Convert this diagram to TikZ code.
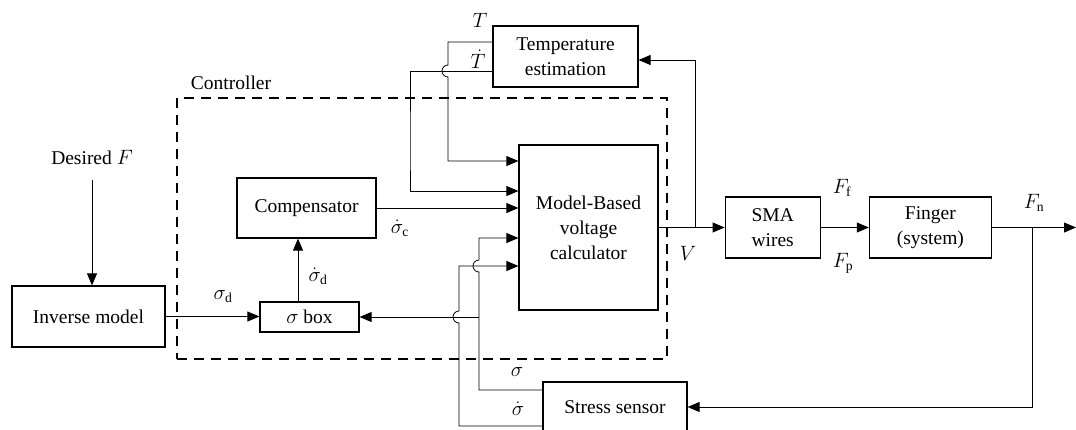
\documentclass[tikz,border=0pt]{standalone}
\usepackage{fontspec}
\setmainfont{Liberation Serif}
\usetikzlibrary{positioning,arrows.meta}

\begin{document}
\begin{tikzpicture}[x=1pt, y=-1pt, node distance=48pt,
    every node/.style={font=\fontsize{19.5}{25}\selectfont},
    block/.style={draw, line width=1.2pt, align=center, inner sep=0pt},
    sig/.style={inner sep=1pt},
    wire/.style={line width=0.8pt},
    arr/.style={wire, -{Triangle[length=12pt, width=10pt]}}]
    \useasboundingbox (0,0) rectangle (1076,429);

    % controller frame
    \node (ctrl) [draw, line width=2pt, dash pattern=on 10pt off 7pt, minimum width=490pt, minimum height=261pt] at (422,228.5) {};
    \node (ctrllbl) at (231,83) {Controller};

    % blocks
    \node (inv) [block, minimum width=153pt, minimum height=61pt] at (88.5,316.5) {Inverse model};
    \node (desired) at (92,158) {Desired $F$};
    \node (comp) [block, minimum width=139pt, minimum height=60pt] at (306.5,208) {Compensator};
    \node (sbox) [block, minimum width=99pt, minimum height=30pt] at (309.5,317) {$\sigma$ box};
    \node (model) [block, minimum width=139pt, minimum height=165pt] at (588.5,227.5) {Model-Based\\voltage\\calculator};
    \node (temp) [block, minimum width=145pt, minimum height=61pt] at (565.5,56.5) {Temperature\\estimation};
    \node (sma) [block, minimum width=95pt, minimum height=61pt, right=66pt of model] {SMA\\wires};
    \node (finger) [block, minimum width=122pt, minimum height=61pt, right=of sma] {Finger\\(system)};
    \node (sensor) [block, minimum width=144pt, minimum height=50pt] at (615,407) {Stress sensor};

    \coordinate (vj) at (695,227.5);
    \coordinate (fn) at (1032,227.5);
    \coordinate (out) at (1076,227.5);
    \coordinate (sj) at (479,317);

    % forward path
    \draw[arr] ([yshift=-11pt]desired.south) -- (desired.south |- inv.north);
    \draw[arr] (inv.east) -- (inv.east -| sbox.west);
    \draw[arr] ([xshift=-11.5pt]sbox.north) -- ([xshift=-11.5pt]sbox.north |- comp.south);
    \draw[arr] (comp.east) -- (comp.east -| model.west);
    \draw[arr] (model) -- (sma);
    \draw[arr] (sma) -- (finger);
    \draw[arr] (finger) -- (out);

    % feedback
    \draw[arr] (vj) |- ([yshift=-3.5pt]temp.east);
    \draw[arr] (fn) |- (sensor.east);
    \draw[arr] ([yshift=14.5pt]temp.west) -| (448,65) arc[start angle=90, end angle=270, radius=6pt] |- ([yshift=66.5pt]model.west);
    \draw[arr] ([yshift=-14.5pt]temp.west) -| (410,150) |- ([yshift=36.5pt]model.west);
    \draw[arr] ([yshift=17pt]sensor.west) -| (479,272) arc[start angle=270, end angle=90, radius=6pt] |- ([yshift=-10.5pt]model.west);
    \draw[arr] ([yshift=-19pt]sensor.west) -| (459,323) arc[start angle=270, end angle=90, radius=6pt] |- ([yshift=-38.5pt]model.west);
    \draw[arr] (sj) -- (sbox.east);

    % signal labels
    \node (lT) [sig] at (480,20) {$T$};
    \node (lTd) [sig] at (478,59) {$\dot T$};
    \node (lsd) [sig] at (223,297) {$\sigma_{\mathrm{d}}$};
    \node (lsdd) [sig] at (318,276) {$\dot\sigma_{\mathrm{d}}$};
    \node (lsc) [sig] at (400,228) {$\dot\sigma_{\mathrm{c}}$};
    \node (lV) [sig] at (688,253) {$V$};
    \node (lFf) [sig] at (842,188) {$F_{\mathrm{f}}$};
    \node (lFp) [sig] at (843,263) {$F_{\mathrm{p}}$};
    \node (lFn) [sig] at (1034,203) {$F_{\mathrm{n}}$};
    \node (ls) [sig] at (517,372) {$\sigma$};
    \node (lsdot) [sig] at (518,409) {$\dot\sigma$};
\end{tikzpicture}
\end{document}
